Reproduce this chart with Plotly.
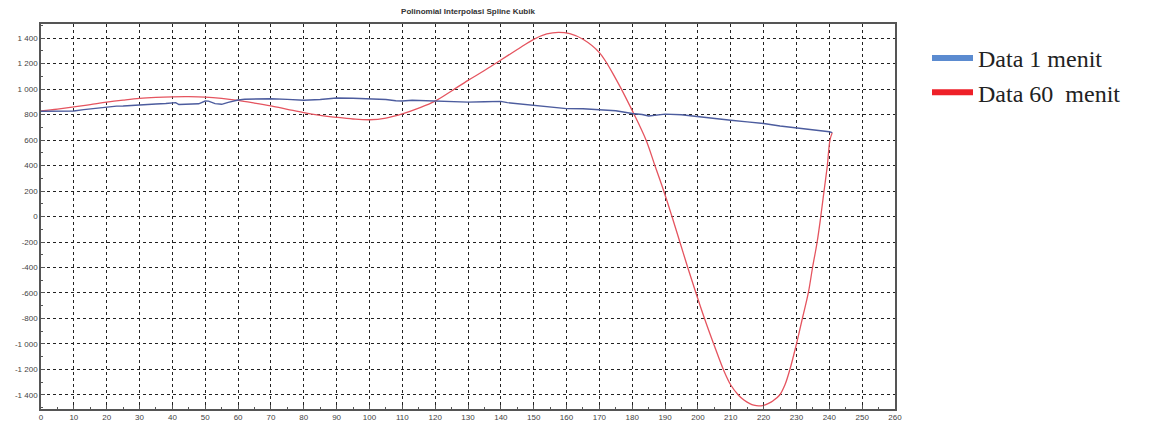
import plotly.graph_objects as go

# ---- data ----
blue_x = [0, 3, 6, 10, 13, 15, 18, 20, 23, 25, 28, 30, 33, 35, 38, 40, 41, 42, 45, 48,
          50, 51, 53, 55, 57, 60, 62, 65, 70, 75, 80, 85, 90, 95, 100, 105, 108, 110, 113,
          115, 120, 125, 130, 135, 138, 140, 142, 145, 150, 155, 160, 165, 170, 175, 180,
          183, 185, 188, 190, 195, 200, 205, 210, 215, 220, 225, 230, 235, 240, 240.9]
blue_y = [826, 826, 827, 828, 838, 844, 856, 862, 866, 867, 873, 878, 880, 883, 886, 891, 893, 878, 879, 884,
          906, 905, 885, 880, 895, 914, 920, 922, 924, 919, 912, 918, 929, 927, 925, 918, 908, 906, 912,
          910, 904, 901, 897, 900, 904, 903, 893, 886, 874, 858, 846, 845, 838, 829, 808,
          800, 788, 800, 803, 798, 782, 768, 755, 742, 729, 710, 695, 682, 665, 658]

red_x = [0, 5, 10, 15, 20, 25, 30, 35, 40, 45, 50, 55, 60, 65, 70, 75, 80, 85, 90, 95,
         100, 105, 110, 115, 120, 125, 130, 135, 140, 145, 150, 154, 157.5, 161, 165, 170,
         175, 180.5, 184.2, 186.9, 189.6, 192.1, 194.5, 196.9, 199.4, 202, 204.8, 207.9,
         210, 212.3, 214, 215.8, 217, 218.5, 220, 221.5, 222.9, 224.9, 226.5, 228, 230, 231.8,
         233.6, 234.9, 236.3, 237.4, 238.4, 239.4, 240.2, 240.9]
red_y = [828, 843, 860, 878, 897, 913, 927, 935, 939, 940, 937, 927, 911, 890, 867, 841, 815, 794, 778, 765,
         759, 772, 805, 850, 905, 985, 1068, 1145, 1228, 1310, 1390, 1432, 1445, 1434, 1390, 1285,
         1080, 805, 600, 400, 200, 0, -200, -400, -600, -800, -1000, -1210,
         -1322, -1400, -1440, -1468, -1480, -1486, -1481, -1466, -1445, -1400, -1320, -1200, -1000, -800,
         -600, -400, -200, 0, 200, 400, 600, 658]

series_names = ["Data 1 menit", "Data 60  menit"]
title_text = "Polinomial Interpolasi Spline Kubik"

y_tickvals = [1400, 1200, 1000, 800, 600, 400, 200, 0, -200, -400, -600, -800, -1000, -1200, -1400]
y_ticktext = ["1 400", "1 200", "1 000", "800", "600", "400", "200", "0", "-200", "-400",
              "-600", "-800", "-1 000", "-1 200", "-1 400"]
x_tickvals = list(range(0, 261, 10))
x_ticktext = [str(v) for v in x_tickvals]

fig = go.Figure()

fig.add_trace(go.Scatter(x=red_x, y=red_y, mode="lines",
                         line=dict(color="#e5545f", width=1.3, shape="spline", smoothing=1.0),
                         showlegend=False, hoverinfo="skip"))
fig.add_trace(go.Scatter(x=blue_x, y=blue_y, mode="lines", line=dict(color="#4c5c9e", width=1.4),
                         showlegend=False, hoverinfo="skip"))

# legend-only entries (thick swatches like the reference)
fig.add_trace(go.Scatter(x=[None], y=[None], mode="lines", name=series_names[0],
                         line=dict(color="#5b8bd0", width=6)))
fig.add_trace(go.Scatter(x=[None], y=[None], mode="lines", name=series_names[1],
                         line=dict(color="#ee2028", width=6)))

grid = dict(showgrid=True, gridcolor="#222222", gridwidth=1, griddash="3px,3px")
tickfont = dict(family="Arial, Liberation Sans, sans-serif", size=8, color="#444")

# page has an 8px body margin; margins compensate so the plot sits where the reference has it
fig.update_layout(
    width=1152, height=428,
    margin=dict(l=33, r=265, t=16, b=27, autoexpand=False),
    paper_bgcolor="white", plot_bgcolor="white",
    title=dict(text="<b>" + title_text + "</b>", x=460 / 1152, xanchor="center", y=1.0, yanchor="top",
               pad=dict(t=0, b=0),
               font=dict(family="Arial, Liberation Sans, sans-serif", size=8, color="#333")),
    xaxis=dict(range=[0, 260], tickvals=x_tickvals, ticktext=x_ticktext, zeroline=False,
               showline=True, linecolor="#555", linewidth=1.5, mirror=True,
               ticks="inside", ticklen=4, tickcolor="#555", automargin=False,
               minor=dict(dtick=5, ticks="inside", ticklen=2, tickcolor="#555", showgrid=False),
               tickfont=tickfont, **grid),
    yaxis=dict(range=[-1510, 1510], tickvals=y_tickvals, ticktext=y_ticktext, zeroline=False,
               showline=True, linecolor="#555", linewidth=1.5, mirror=True,
               ticks="inside", ticklen=4, tickcolor="#555", automargin=False,
               minor=dict(dtick=100, ticks="inside", ticklen=2, tickcolor="#555", showgrid=False),
               tickfont=tickfont, **grid),
    legend=dict(x=(919 - 33) / 854, xanchor="left", y=1 - (28 - 16) / 385, yanchor="top",
                font=dict(family="Liberation Serif, Times New Roman, serif", size=24, color="#222"),
                itemwidth=41, tracegroupgap=0, bgcolor="rgba(0,0,0,0)"),
)

fig.write_html("out.html")
